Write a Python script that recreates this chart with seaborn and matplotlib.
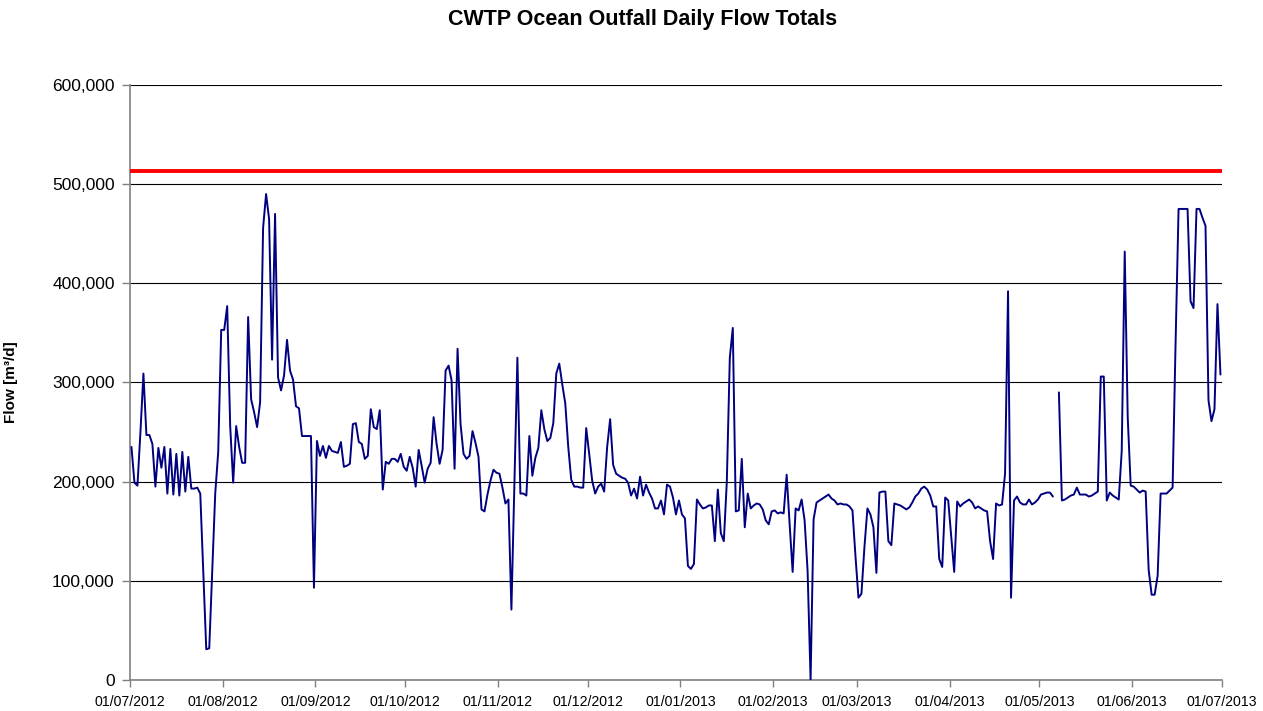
import numpy as np
import pandas as pd
import matplotlib
matplotlib.use("Agg")
import matplotlib.pyplot as plt
import matplotlib.dates as mdates
from matplotlib.ticker import FuncFormatter, MultipleLocator
import seaborn as sns

# Daily flow totals, thousand m3/d
jul_2012 = [235, 199, 196, 250, 309, 247, 247, 238, 195, 234, 214, 235, 188, 233, 187, 228,
            186, 230, 190, 225, 193, 193, 194, 188, 110, 31, 32, 110, 188, 230, 353]
aug_2012 = [353, 377, 256, 199, 256, 235, 219, 219, 366, 283, 270, 255, 280, 456, 490, 465,
            323, 470, 305, 292, 307, 343, 312, 303, 276, 274, 246, 246, 246, 246, 93]
sep_2012 = [241, 226, 236, 224, 236, 231, 230, 229, 240, 215, 216, 218, 258, 259, 240, 238,
            223, 226, 273, 255, 253, 272, 192, 220, 218, 223, 223, 220, 228, 215]
oct_2012 = [211, 225, 214, 195, 232, 216, 199, 213, 219, 265, 238, 218, 232, 312, 317, 302,
            213, 334, 258, 228, 223, 226, 251, 239, 225, 172, 170, 187, 201, 212, 209]
nov_2012 = [208, 194, 178, 182, 71, 198, 325, 188, 188, 186, 246, 206, 224, 234, 272, 253,
            241, 244, 259, 309, 319, 298, 279, 235, 202, 195, 195, 194, 194, 254]
dec_2012 = [228, 201, 188, 195, 198, 190, 235, 263, 217, 208, 206, 204, 203, 199, 186, 193,
            183, 205, 186, 197, 189, 183, 173, 173, 181, 167, 197, 195, 184, 167, 181]
jan_2013 = [167, 163, 115, 112, 117, 182, 177, 173, 174, 176, 176, 140, 192, 148, 140, 200,
            325, 355, 170, 171, 223, 154, 188, 173, 176, 178, 177, 172, 161, 157, 170]
feb_2013 = [171, 168, 169, 168, 207, 157, 109, 173, 171, 182, 161, 110, 0, 162, 179, 181,
            183, 185, 187, 183, 181, 177, 178, 177, 177, 175, 171, 125]
mar_2013 = [83, 87, 134, 173, 167, 154, 108, 189, 190, 190, 140, 136, 178, 177, 176, 174,
            172, 174, 179, 185, 188, 193, 195, 192, 186, 175, 175, 122, 114, 184, 181]
apr_2013 = [145, 109, 180, 175, 178, 180, 182, 179, 173, 175, 173, 171, 170, 140, 122, 178,
            176, 177, 208, 392, 83, 181, 185, 179, 177, 177, 182, 177, 179, 182]
may_2013 = [187, 188, 189, 189, 185, None, 290, 181, 182, 184, 186, 187, 194, 187, 187, 187,
            185, 186, 188, 190, 306, 306, 181, 189, 186, 184, 182, 231, 432, 265, 196]
jun_2013 = [195, 192, 189, 191, 190, 111, 86, 86, 105, 188, 188, 188, 191, 194, 340, 475,
            475, 475, 475, 382, 375, 475, 475, 466, 458, 282, 261, 273, 379, 308]

# outfall capacity line
limit_flow = 513000

months = [jul_2012, aug_2012, sep_2012, oct_2012, nov_2012, dec_2012,
          jan_2013, feb_2013, mar_2013, apr_2013, may_2013, jun_2013]
flow = [np.nan if v is None else v * 1000 for m in months for v in m]

# Excel centres each daily point in the middle of the day
dates = pd.date_range("2012-07-01 12:00", periods=len(flow), freq="D")
df = pd.DataFrame({"date": dates, "flow": flow})
df["segment"] = df["flow"].isna().cumsum()
df = df.dropna()

sns.set_theme(style="white")
plt.rcParams["font.family"] = ["Liberation Sans", "DejaVu Sans"]
plt.rcParams["text.color"] = "black"
plt.rcParams["axes.labelcolor"] = "black"

fig, ax = plt.subplots(figsize=(12.63, 7.11), dpi=100)
fig.subplots_adjust(left=0.1029, right=0.9675, top=0.8805, bottom=0.0436)

sns.lineplot(data=df, x="date", y="flow", units="segment", estimator=None,
             color="#000080", linewidth=1.4, ax=ax, zorder=3)
ax.axhline(limit_flow, color="#ff0000", linewidth=2.8, zorder=4)

ax.set_ylim(0, 600000)
ax.yaxis.set_major_locator(MultipleLocator(100000))
ax.yaxis.set_major_formatter(FuncFormatter(lambda v, p: f"{v:,.0f}"))
ax.set_xlim(pd.Timestamp("2012-07-01"), pd.Timestamp("2013-07-01"))
ax.xaxis.set_major_locator(mdates.MonthLocator())
ax.xaxis.set_major_formatter(mdates.DateFormatter("%d/%m/%Y"))

ax.grid(axis="y", color="black", linewidth=0.8)
ax.grid(axis="x", visible=False)
for side in ["top", "right"]:
    ax.spines[side].set_visible(False)
for side in ["left", "bottom"]:
    ax.spines[side].set_color("#808080")
    ax.spines[side].set_linewidth(1.2)

ax.tick_params(axis="y", direction="out", length=6, width=1, color="#808080",
               labelcolor="black", labelsize=12.5, pad=5, left=True)
ax.tick_params(axis="x", direction="out", length=5, width=1, color="#808080",
               labelcolor="black", labelsize=10.2, pad=6, bottom=True)

ax.set_xlabel("")
ax.set_ylabel("Flow [m³/d]", fontsize=11, fontweight="bold")
ax.yaxis.set_label_coords(-0.1026, 0.5)

fig.text(0.5087, 0.973, "CWTP Ocean Outfall Daily Flow Totals", ha="center", va="center",
         fontsize=15.5, fontweight="bold")

fig.savefig("out.png", dpi=100)
